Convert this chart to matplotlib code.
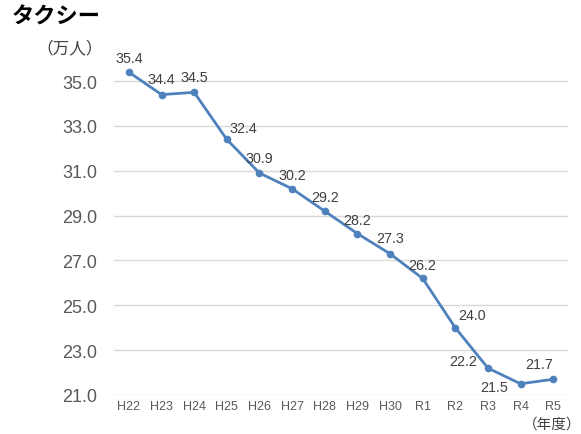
import matplotlib
matplotlib.use("Agg")
import matplotlib.pyplot as plt

plt.rcParams['font.family'] = ['Noto Sans CJK JP', 'DejaVu Sans']

# ---- data ----
years = ["H22", "H23", "H24", "H25", "H26", "H27", "H28", "H29", "H30",
         "R1", "R2", "R3", "R4", "R5"]
passengers = [35.4, 34.4, 34.5, 32.4, 30.9, 30.2, 29.2, 28.2, 27.3,
              26.2, 24.0, 22.2, 21.5, 21.7]
y_ticks = [21.0, 23.0, 25.0, 27.0, 29.0, 31.0, 33.0, 35.0]
title = "タクシー"
unit_label = "（万人）"
x_unit_label = "（年度）"

# label offsets in points (style)
label_offsets = [(0, 10), (0, 11), (0, 11), (12, 8), (0, 11), (0, 10), (0, 10),
                 (0, 10), (0, 11), (0, 10), (12, 9), (-18, 5), (-19, -2), (-10, 11)]

fig = plt.figure(figsize=(5.81, 4.35), dpi=100)
ax = fig.add_axes([0.196, 0.0897, 0.782, 0.773])

xs = list(range(len(years)))
line_color = "#4F81BD"
ax.plot(xs, passengers, color=line_color, lw=2.0, marker="o", markersize=4.5,
        markerfacecolor=line_color, markeredgecolor=line_color, zorder=3)

for x, v, off in zip(xs, passengers, label_offsets):
    ax.annotate(f"{v:.1f}", (x, v), xytext=off, textcoords="offset points",
                ha="center", va="center", fontsize=10.3, color="#404040",
                family=["Liberation Sans", "DejaVu Sans"])

ax.set_xlim(-0.46, len(years) - 1 + 0.46)
ax.set_ylim(21.0, 36.0)
ax.set_yticks(y_ticks)
ax.set_yticklabels([f"{t:.1f}" for t in y_ticks], fontsize=13, color="#595959",
                   family=["Liberation Sans", "DejaVu Sans"])
ax.set_xticks(xs)
ax.set_xticklabels(years, fontsize=9, color="#595959",
                   family=["Liberation Sans", "DejaVu Sans"])
ax.tick_params(axis="both", length=0)
ax.tick_params(axis="y", pad=12)
ax.tick_params(axis="x", pad=3.5)
ax.grid(axis="y", color="#D9D9D9", lw=1.0)
ax.set_axisbelow(True)
for s in ax.spines.values():
    s.set_visible(False)

fig.text(0.020, 0.960, title, fontsize=16, fontweight="bold", color="#000000",
         va="center", ha="left")
fig.text(0.062, 0.887, unit_label, fontsize=12, color="#404040",
         va="center", ha="left")
fig.text(1.0, 0.025, x_unit_label, fontsize=10.5, color="#404040",
         va="center", ha="right")

fig.savefig("out.png", dpi=100)
